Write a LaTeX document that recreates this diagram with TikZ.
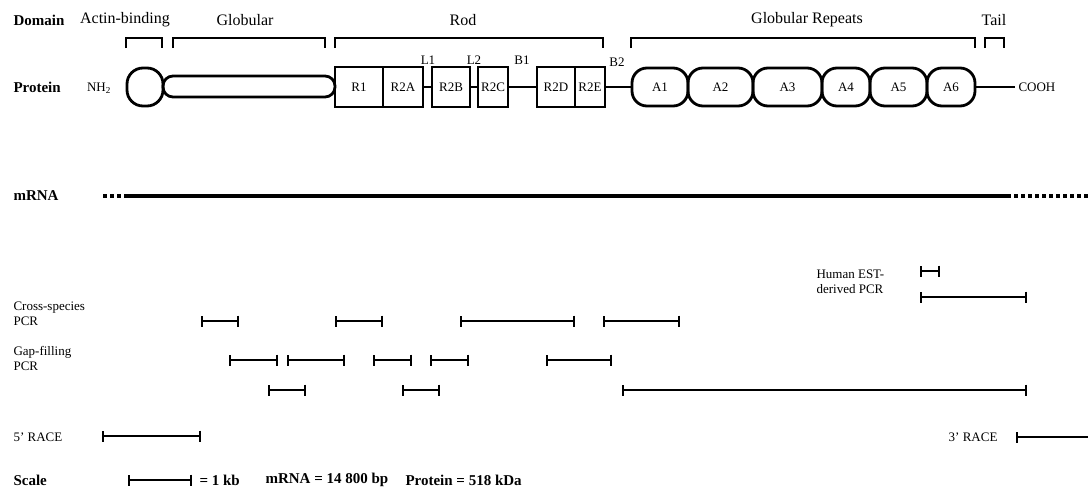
\documentclass[tikz,border=0pt]{standalone}
\usepackage{fontspec}
\setmainfont{Liberation Serif}
\usetikzlibrary{arrows.meta}

\tikzset{
  big/.style={font=\fontsize{16}{18}\selectfont},
  head/.style={font=\fontsize{15}{17}\selectfont\bfseries, anchor=west},
  small/.style={font=\fontsize{13}{15}\selectfont},
  side/.style={font=\fontsize{13}{15}\selectfont, align=left, anchor=west},
  brk/.style={line width=1.4pt},
  dom/.style={draw, line width=2.8pt, inner sep=0pt, font=\fontsize{13}{15}\selectfont},
  rep/.style={dom, minimum height=40pt},
  glb/.style={dom, rounded corners=15pt, minimum height=38pt},
  link/.style={line width=2.8pt},
  seg/.style={line width=1.7pt, {Bar[width=11pt,line width=1.7pt]}-{Bar[width=11pt,line width=1.7pt]}},
}

\begin{document}
\begin{tikzpicture}[x=1pt,y=-1pt]
\useasboundingbox (0,0) rectangle (1088,493);
% domain row
\node[head] (domain) at (10,20) {Domain};
\node[big] (actin) at (125,20) {Actin-binding};
\node[big] (globular) at (245,20) {Globular};
\node[big] (rod) at (463,20) {Rod};
\node[big] (repeats) at (807,20) {Globular Repeats};
\node[big] (tail) at (994,20) {Tail};
\draw[brk] (126,48) -- (126,38) -- (162,38) -- (162,48);
\draw[brk] (173,48) -- (173,38) -- (325,38) -- (325,48);
\draw[brk] (335,48) -- (335,38) -- (603,38) -- (603,48);
\draw[brk] (631,48) -- (631,38) -- (975,38) -- (975,48);
\draw[brk] (985,48) -- (985,38) -- (1004,38) -- (1004,48);
% protein row
\node[head] (protein) at (10,87) {Protein};
\node[small] (nh) at (99,88) {NH\textsubscript{2}};
\node[dom, rounded corners=16pt, minimum width=36pt, minimum height=38pt] (ab) at (145,87) {};
\node[dom, rounded corners=10pt, minimum width=172pt, minimum height=21pt] (gl) at (249,86.5) {};
\node[rep, minimum width=48pt] (r1) at (359,87) {R1};
\node[rep, minimum width=40pt] (r2a) at (403,87) {R2A};
\node[rep, minimum width=38pt] (r2b) at (451,87) {R2B};
\node[rep, minimum width=30pt] (r2c) at (493,87) {R2C};
\node[rep, minimum width=38pt] (r2d) at (556,87) {R2D};
\node[rep, minimum width=30pt] (r2e) at (590,87) {R2E};
\node[glb, minimum width=56pt] (a1) at (660,87) {A1};
\node[glb, minimum width=65pt] (a2) at (720.5,87) {A2};
\node[glb, minimum width=69pt] (a3) at (787.5,87) {A3};
\node[glb, minimum width=48pt] (a4) at (846,87) {A4};
\node[glb, minimum width=57pt] (a5) at (898.5,87) {A5};
\node[glb, minimum width=48pt] (a6) at (951,87) {A6};
\node[small, anchor=west] (cooh) at (1015,87) {COOH};
\node[small] (l1) at (428,60) {L1};
\node[small] (l2) at (474,60) {L2};
\node[small] (b1) at (522,60) {B1};
\node[small] (b2) at (617,62) {B2};
\draw[link] (r2a.east) -- (r2b.west);
\draw[link] (r2b.east) -- (r2c.west);
\draw[link] (r2c.east) -- (r2d.west);
\draw[link] (r2e.east) -- (a1.west);
\draw[link] (a6.east) -- (a6.east -| cooh.west);
% mRNA
\node[head] (mrna) at (10,196) {mRNA};
\draw[line width=3.2pt, dash pattern=on 4pt off 3pt] (103,196) -- (125,196);
\draw[line width=3.2pt] (125,196) -- (1007,196);
\draw[line width=3.2pt, dash pattern=on 4pt off 3pt] (1007,196) -- (1088,196);
% human EST
\node[side] (est) at (813,282) {Human EST-\\derived PCR};
\draw[seg] (920,271) -- (940,271);
\draw[seg] (920,297) -- (1027,297);
% cross-species PCR
\node[side] (cross) at (10,314) {Cross-species\\PCR};
\draw[seg] (201,321) -- (239,321);
\draw[seg] (335,321) -- (383,321);
\draw[seg] (460,321) -- (575,321);
\draw[seg] (603,321) -- (680,321);
% gap-filling PCR
\node[side] (gap) at (10,358) {Gap-filling\\PCR};
\draw[seg] (229,360) -- (278,360);
\draw[seg] (287,360) -- (345,360);
\draw[seg] (373,360) -- (412,360);
\draw[seg] (430,360) -- (469,360);
\draw[seg] (546,360) -- (612,360);
\draw[seg] (268,390) -- (306,390);
\draw[seg] (402,390) -- (440,390);
\draw[seg] (622,390) -- (1027,390);
% RACE
\node[side] (race5) at (10,437) {5' RACE};
\draw[seg] (102,436) -- (201,436);
\node[small, anchor=east] (race3) at (1001,437) {3' RACE};
\draw[line width=1.7pt, {Bar[width=11pt,line width=1.7pt]}-] (1016,437) -- (1092,437);
% scale
\node[head] (scale) at (10,480) {Scale};
\draw[seg] (128,480) -- (192,480);
\node[head] (kb) at (196,480) {= 1 kb};
\node[head] (len) at (262,480) {mRNA = 14 800 bp};
\node[head] (mass) at (402,480) {Protein = 518 kDa};
\end{tikzpicture}
\end{document}
